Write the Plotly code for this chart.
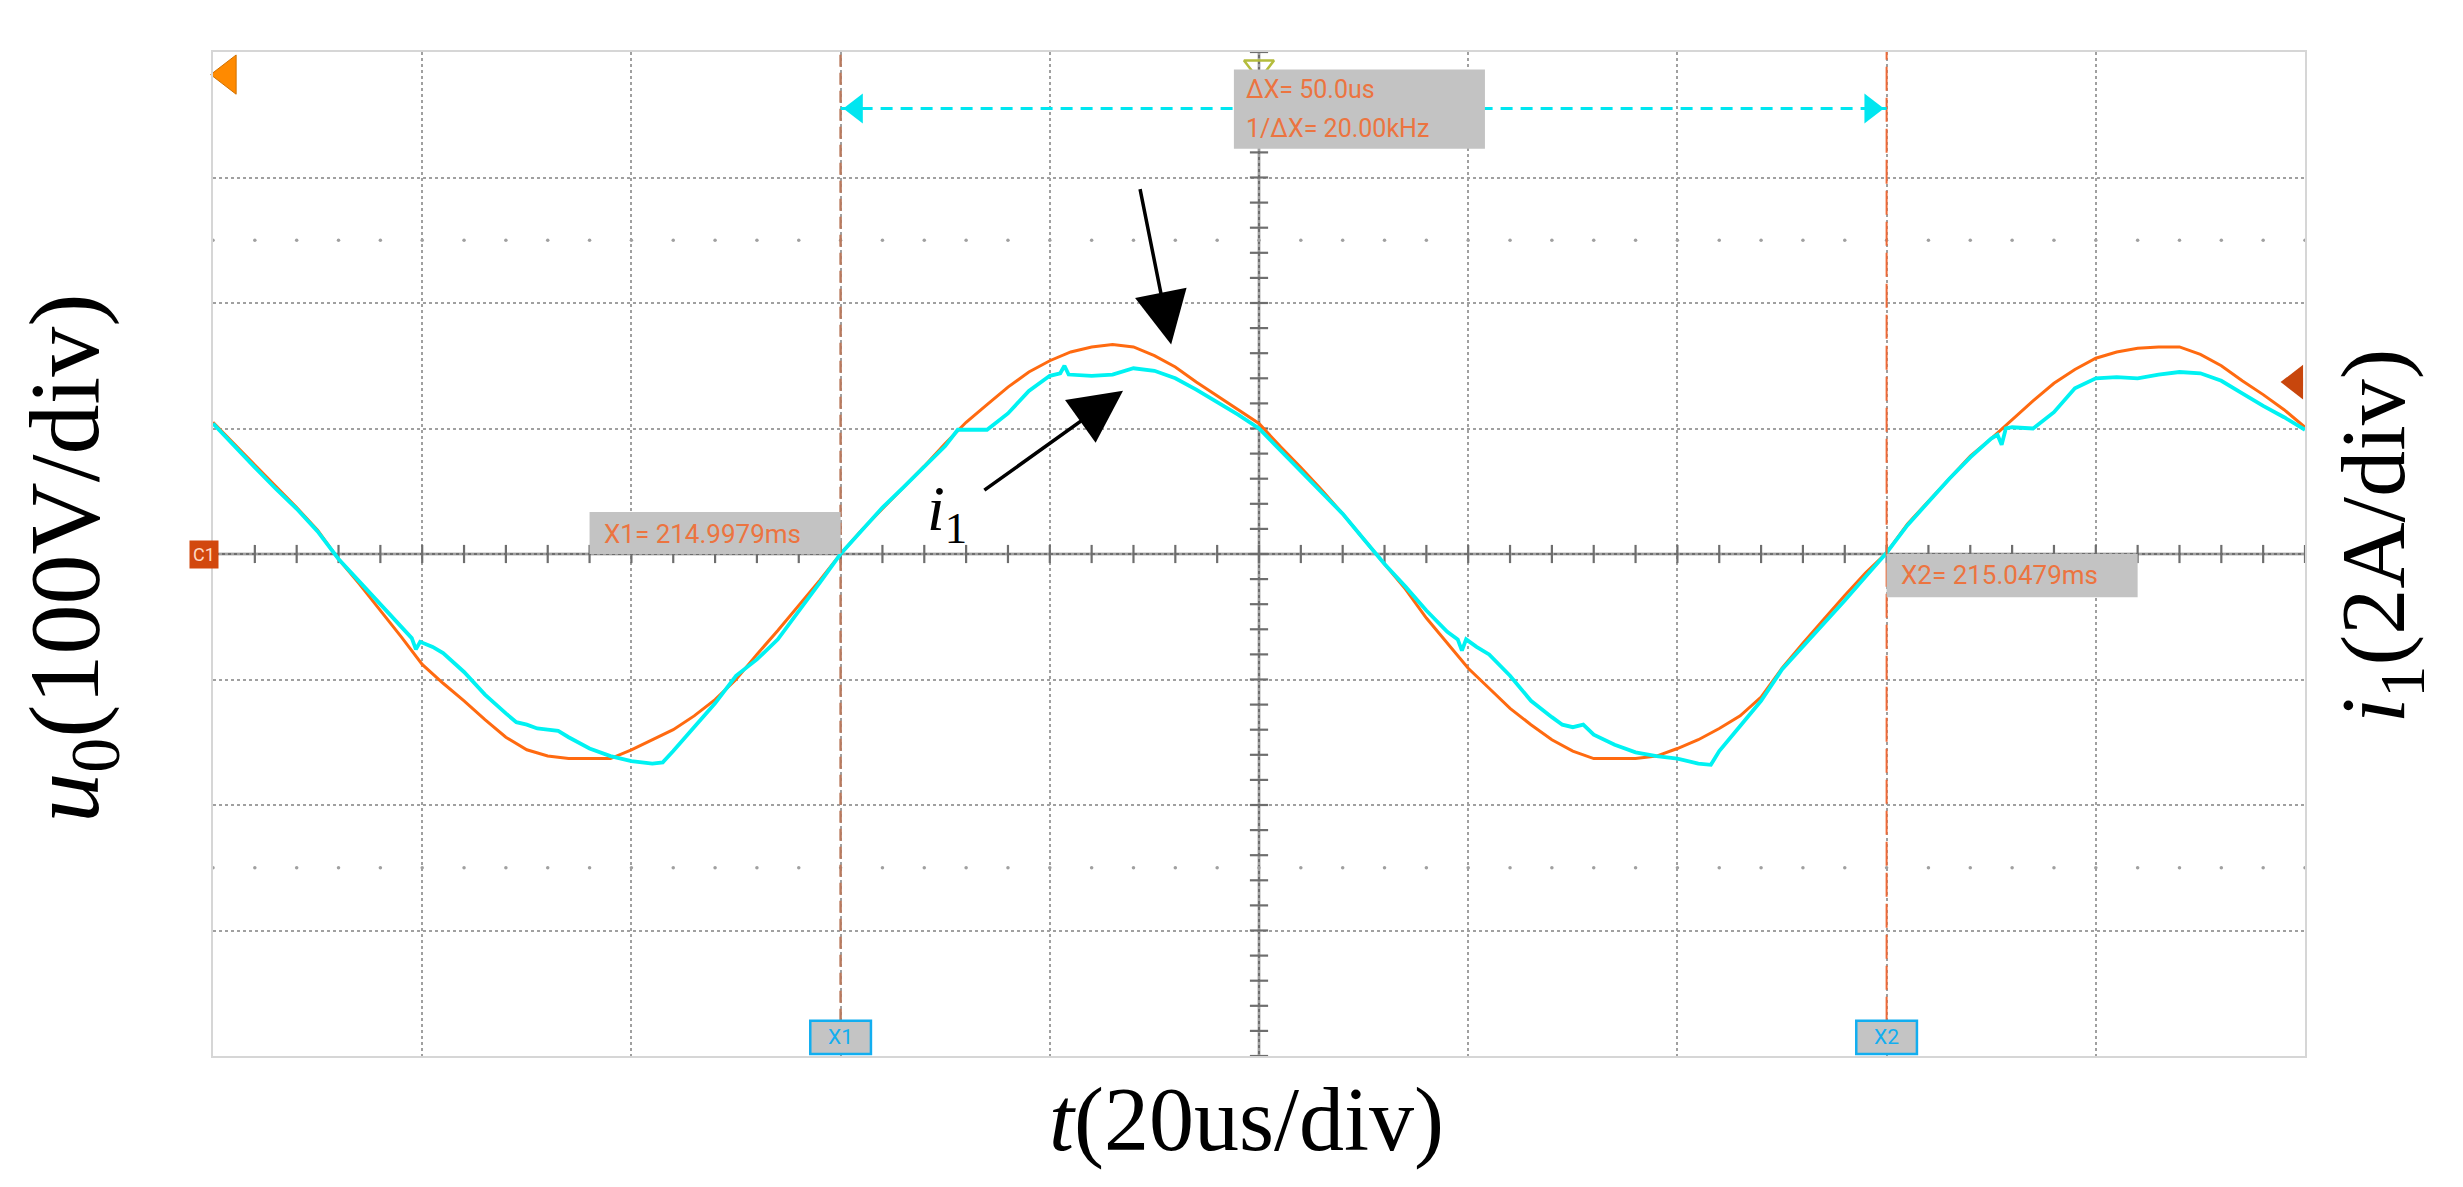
import numpy as np
import plotly.graph_objects as go

# ---------------- data (in divisions) ----------------
# horizontal: 10 divisions (20us/div), vertical: 8 divisions, centre = 0
t_u0 = [round(0.1 * k, 1) for k in range(101)]
u0 = [1.05, 0.88, 0.71, 0.54, 0.37, 0.19, -0.04, -0.24, -0.45, -0.66,
      -0.88, -1.03, -1.17, -1.32, -1.46, -1.56, -1.61, -1.63, -1.63, -1.63,
      -1.56, -1.48, -1.40, -1.29, -1.16, -1.00, -0.80, -0.61, -0.41, -0.21,
      0.00, 0.19, 0.36, 0.53, 0.70, 0.88, 1.05, 1.19, 1.33, 1.45,
      1.54, 1.61, 1.65, 1.67, 1.65, 1.58, 1.49, 1.37, 1.26, 1.15,
      1.04, 0.86, 0.69, 0.51, 0.32, 0.12, -0.08, -0.28, -0.51, -0.71,
      -0.91, -1.07, -1.23, -1.36, -1.48, -1.57, -1.63, -1.63, -1.63, -1.61,
      -1.55, -1.48, -1.39, -1.29, -1.14, -0.91, -0.71, -0.52, -0.33, -0.15,
      0.01, 0.24, 0.42, 0.60, 0.78, 0.92, 1.07, 1.22, 1.36, 1.47,
      1.56, 1.61, 1.64, 1.65, 1.65, 1.59, 1.50, 1.38, 1.27, 1.15,
      1.01]

t_i1 = [0.0, 0.1, 0.2, 0.3, 0.4, 0.5, 0.6, 0.7, 0.8, 0.9, 0.95, 0.97, 0.99, 1.05, 1.1,
        1.2, 1.3, 1.4, 1.45, 1.5, 1.55, 1.6, 1.65, 1.7, 1.8, 1.9, 2.0, 2.1, 2.15, 2.2,
        2.3, 2.4, 2.5, 2.6, 2.7, 2.8, 2.9, 3.0, 3.1, 3.2, 3.3, 3.4, 3.5, 3.56, 3.6,
        3.7, 3.8, 3.9, 4.0, 4.05, 4.07, 4.09, 4.2, 4.3, 4.4, 4.5, 4.6, 4.7, 4.8, 4.9,
        5.0, 5.1, 5.2, 5.3, 5.4, 5.5, 5.6, 5.7, 5.8, 5.9, 5.95, 5.97, 5.99, 6.04, 6.1,
        6.2, 6.3, 6.4, 6.45, 6.5, 6.55, 6.6, 6.7, 6.8, 6.9, 7.0, 7.1, 7.16, 7.2, 7.3,
        7.4, 7.5, 7.6, 7.7, 7.8, 7.9, 8.0, 8.1, 8.2, 8.3, 8.4, 8.5, 8.53, 8.55, 8.57,
        8.6, 8.7, 8.8, 8.9, 9.0, 9.1, 9.2, 9.3, 9.4, 9.5, 9.6, 9.7, 9.8, 9.9, 10.0]
i1 = [1.04, 0.86, 0.69, 0.52, 0.36, 0.18, -0.04, -0.22, -0.40, -0.58, -0.67, -0.76, -0.70, -0.74, -0.79,
      -0.94, -1.12, -1.27, -1.34, -1.36, -1.39, -1.40, -1.41, -1.46, -1.55, -1.61, -1.65, -1.67, -1.66, -1.57,
      -1.38, -1.19, -0.97, -0.84, -0.68, -0.46, -0.23, 0.00, 0.19, 0.37, 0.53, 0.70, 0.86, 0.99, 0.99,
      0.99, 1.12, 1.30, 1.42, 1.44, 1.50, 1.43, 1.42, 1.43, 1.48, 1.46, 1.40, 1.31, 1.21, 1.11,
      1.00, 0.83, 0.66, 0.49, 0.32, 0.12, -0.08, -0.26, -0.45, -0.62, -0.68, -0.77, -0.68, -0.74, -0.80,
      -0.97, -1.17, -1.30, -1.36, -1.38, -1.36, -1.44, -1.52, -1.58, -1.61, -1.63, -1.67, -1.68, -1.57, -1.37,
      -1.17, -0.92, -0.74, -0.56, -0.37, -0.18, 0.01, 0.23, 0.42, 0.60, 0.77, 0.92, 0.95, 0.87, 1.00,
      1.01, 1.00, 1.13, 1.32, 1.40, 1.41, 1.40, 1.43, 1.45, 1.44, 1.38, 1.28, 1.18, 1.09, 0.99]

cursor_x1 = 3.0
cursor_x2 = 8.0
x1_text = "X1= 214.9979ms"
x2_text = "X2= 215.0479ms"
dx_text = "ΔX= 50.0us"
inv_dx_text = "1/ΔX= 20.00kHz"

# ---------------- styling ----------------
ORANGE = "#ff6a10"
CYAN = "#00f2f2"
GRID = "#a0a0a0"
AXC = "#6e6e6e"
LABEL_BG = "#c3c3c3"
LABEL_TXT = "#ec7440"
SCOPE_FONT = "Roboto"
SERIF = "Liberation Serif"

fig = go.Figure()

# sparse dot rows
dots_x = np.round(np.arange(0, 10.001, 0.2), 2)
for yy in (2.5, -2.5):
    fig.add_trace(go.Scatter(x=dots_x, y=[yy] * len(dots_x), mode="markers",
                             marker=dict(size=3.5, color=GRID), hoverinfo="skip", showlegend=False))

# centre axes with ticks
fig.add_shape(type="line", x0=0, x1=10, y0=0, y1=0, line=dict(color=AXC, width=2.5), layer="below")
fig.add_shape(type="line", x0=5, x1=5, y0=-4, y1=4, line=dict(color=AXC, width=2.5), layer="below")
tick_x = np.round(np.arange(0, 10.001, 0.2), 2)
tick_y = np.round(np.arange(-4, 4.001, 0.2), 2)
fig.add_trace(go.Scatter(x=tick_x, y=[0] * len(tick_x), mode="markers",
                         marker=dict(symbol="line-ns", size=13, line=dict(color=AXC, width=2.2)),
                         hoverinfo="skip", showlegend=False))
fig.add_trace(go.Scatter(x=[5] * len(tick_y), y=tick_y, mode="markers",
                         marker=dict(symbol="line-ew", size=13, line=dict(color=AXC, width=2.2)),
                         hoverinfo="skip", showlegend=False))

# cursors
fig.add_shape(type="line", x0=cursor_x1, x1=cursor_x1, y0=-3.72, y1=4,
              line=dict(color="#b97a5e", width=2.5, dash="12px,6px"))
fig.add_shape(type="line", x0=cursor_x2, x1=cursor_x2, y0=-3.72, y1=4,
              line=dict(color="#ee6a38", width=2, dash="24px,7px"))

# waveforms
fig.add_trace(go.Scatter(x=t_u0, y=u0, mode="lines", line=dict(color=ORANGE, width=3),
                         name="u0", showlegend=False))
fig.add_trace(go.Scatter(x=t_i1, y=i1, mode="lines", line=dict(color=CYAN, width=3.8),
                         name="i1", showlegend=False))

# delta-x measurement line
fig.add_shape(type="line", x0=cursor_x1, x1=cursor_x2, y0=3.55, y1=3.55,
              line=dict(color="#00e6f0", width=3, dash="12px,8px"))
fig.add_trace(go.Scatter(x=[cursor_x1 + 0.075, cursor_x2 - 0.075], y=[3.55, 3.55], mode="markers",
                         marker=dict(symbol=["triangle-left", "triangle-right"], size=26, color="#00e6f0"),
                         hoverinfo="skip", showlegend=False, cliponaxis=False))

# gray info boxes
fig.add_shape(type="rect", x0=4.88, x1=6.08, y0=3.23, y1=3.86, fillcolor=LABEL_BG, line=dict(width=0))
fig.add_annotation(x=4.93, y=3.70, text=dx_text, showarrow=False, xanchor="left", yanchor="middle",
                   font=dict(family=SCOPE_FONT, size=25, color=LABEL_TXT))
fig.add_annotation(x=4.93, y=3.39, text=inv_dx_text, showarrow=False, xanchor="left", yanchor="middle",
                   font=dict(family=SCOPE_FONT, size=25, color=LABEL_TXT))

fig.add_shape(type="rect", x0=1.80, x1=cursor_x1, y0=0, y1=0.335, fillcolor=LABEL_BG, line=dict(width=0))
fig.add_annotation(x=1.86, y=0.16, text=x1_text, showarrow=False, xanchor="left", yanchor="middle",
                   font=dict(family=SCOPE_FONT, size=26, color=LABEL_TXT))
fig.add_shape(type="rect", x0=cursor_x2, x1=9.20, y0=-0.345, y1=0, fillcolor=LABEL_BG, line=dict(width=0))
fig.add_annotation(x=8.06, y=-0.17, text=x2_text, showarrow=False, xanchor="left", yanchor="middle",
                   font=dict(family=SCOPE_FONT, size=26, color=LABEL_TXT))

# cursor badges at the bottom
for cx, lab in ((cursor_x1, "X1"), (cursor_x2, "X2")):
    fig.add_shape(type="rect", x0=cx - 0.145, x1=cx + 0.145, y0=-3.985, y1=-3.72,
                  fillcolor="#c4c4c4", line=dict(color="#12aef0", width=2.5))
    fig.add_annotation(x=cx, y=-3.85, text=lab, showarrow=False,
                       font=dict(family=SCOPE_FONT, size=21, color="#12aef0"))

# channel / trigger markers
fig.add_trace(go.Scatter(x=[0.07], y=[3.82], mode="markers",
                         marker=dict(symbol="triangle-left", size=34, color="#ff8a00",
                                     line=dict(color="#d07000", width=1)),
                         hoverinfo="skip", showlegend=False, cliponaxis=False))
fig.add_trace(go.Scatter(x=[9.955], y=[1.37], mode="markers",
                         marker=dict(symbol="triangle-left", size=30, color="#c8460c"),
                         hoverinfo="skip", showlegend=False))
fig.add_trace(go.Scatter(x=[5], y=[3.88], mode="markers",
                         marker=dict(symbol="triangle-down-open", size=26, color="#b4bc3c",
                                     line=dict(color="#b4bc3c", width=2.5)),
                         hoverinfo="skip", showlegend=False, cliponaxis=False))
fig.add_annotation(xref="paper", x=0, y=0, text="C1", showarrow=False, xanchor="right", xshift=6,
                   bgcolor="#d2480e", borderpad=3,
                   font=dict(family=SCOPE_FONT, size=18, color="#ffd9c4"))

# black arrows
fig.add_annotation(x=4.58, y=1.67, ax=4.43, ay=2.92, axref="x", ayref="y", text="",
                   showarrow=True, arrowhead=2, arrowsize=3.0, arrowwidth=3.5, arrowcolor="black")
fig.add_annotation(x=4.35, y=1.30, ax=3.68, ay=0.50, axref="x", ayref="y", text="",
                   showarrow=True, arrowhead=2, arrowsize=3.0, arrowwidth=3.5, arrowcolor="black")
fig.add_annotation(x=3.51, y=0.33, text="<i>i</i><sub>1</sub>", showarrow=False,
                   font=dict(family=SERIF, size=64, color="black"))

# axis titles
fig.add_annotation(xref="paper", yref="paper", x=0.494, y=-0.064, text="<i>t</i>(20us/div)",
                   showarrow=False, yanchor="middle",
                   font=dict(family=SERIF, size=90, color="black"))
fig.add_annotation(xref="paper", yref="paper", x=-0.068, y=0.496, text="<i>u</i><sub>0</sub>(100V/div)",
                   showarrow=False, textangle=-90, xanchor="center", yanchor="middle",
                   font=dict(family=SERIF, size=100, color="black"))
fig.add_annotation(xref="paper", yref="paper", x=1.036, y=0.518, text="<i>i</i><sub>1</sub>(2A/div)",
                   showarrow=False, textangle=-90, xanchor="center", yanchor="middle",
                   font=dict(family=SERIF, size=92, color="black"))

axis_common = dict(showgrid=True, gridcolor=GRID, gridwidth=1.5, griddash="dot",
                   zeroline=False, showticklabels=False, ticks="",
                   showline=True, linecolor="#d6d6d6", linewidth=2, mirror=True, fixedrange=True)
# page body has an 8px default margin, so the figure is 8px smaller than the window
fig.update_layout(
    width=2455, height=1179,
    margin=dict(l=205, r=158, t=44, b=131),
    paper_bgcolor="white", plot_bgcolor="white",
    xaxis=dict(range=[0, 10], dtick=1, tick0=0, **axis_common),
    yaxis=dict(range=[-4, 4], dtick=1, tick0=0, **axis_common),
    showlegend=False,
)

fig.write_html("out.html", config={"displayModeBar": False})
